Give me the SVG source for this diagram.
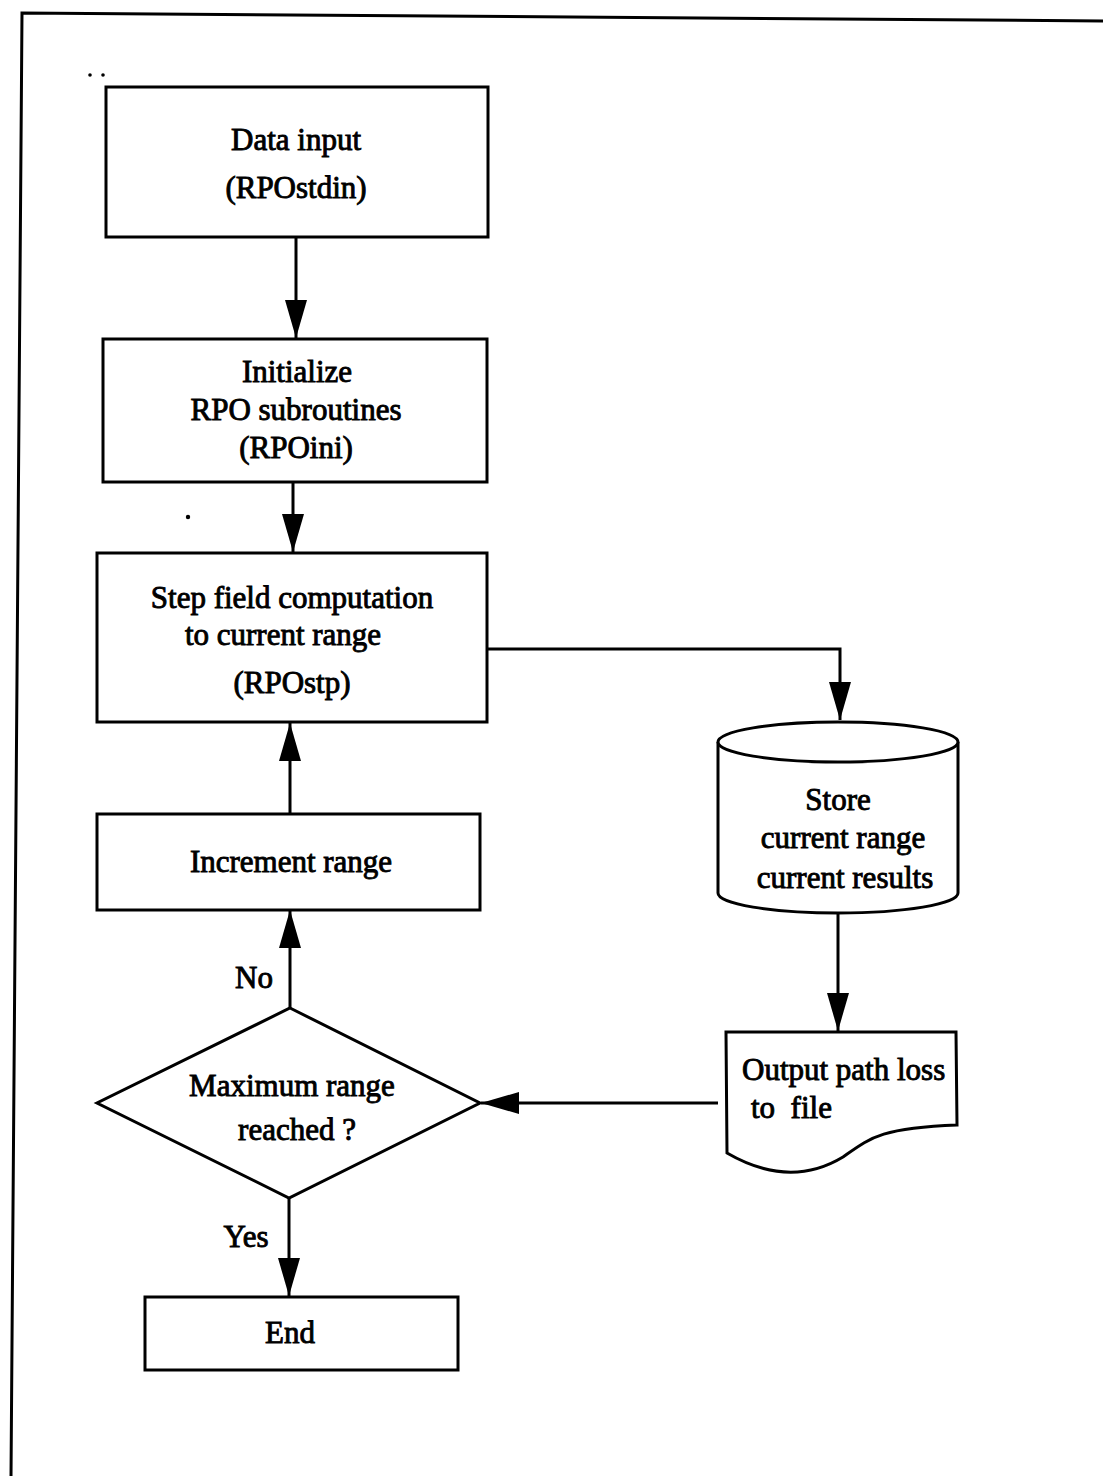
<svg xmlns="http://www.w3.org/2000/svg" width="1103" height="1476" viewBox="0 0 1103 1476">
<style>
.s{fill:#fff;stroke:#000;stroke-width:3;stroke-linejoin:miter}
.c{fill:none;stroke:#000;stroke-width:3}
.t{font-family:"Liberation Serif","Times New Roman",serif;font-size:31px;fill:#000;stroke:#000;stroke-width:0.9;text-anchor:middle}
.l{text-anchor:start}
</style>
<defs>
<marker id="ah" markerUnits="userSpaceOnUse" markerWidth="40" markerHeight="24" refX="38" refY="11" orient="auto">
<path d="M0,0 L38,11 L0,22 z" fill="#000"/>
</marker>
</defs>
<rect width="1103" height="1476" fill="#fff"/>
<g id="frame">
<path class="c" d="M11,1476 L22,13 L1103,21"/>
<circle cx="90" cy="75" r="1.8" fill="#000"/>
<circle cx="103" cy="75" r="1.8" fill="#000"/>
<circle cx="188" cy="517" r="2.2" fill="#000"/>
</g>
<g id="connectors">
<line class="c" x1="296" y1="237" x2="296" y2="338" marker-end="url(#ah)"/>
<line class="c" x1="293" y1="482" x2="293" y2="552" marker-end="url(#ah)"/>
<polyline class="c" points="487,649 840,649 840,720" marker-end="url(#ah)"/>
<line class="c" x1="838" y1="912" x2="838" y2="1031" marker-end="url(#ah)"/>
<line class="c" x1="718" y1="1103" x2="481" y2="1103" marker-end="url(#ah)"/>
<line class="c" x1="290" y1="1008" x2="290" y2="910" marker-end="url(#ah)"/>
<line class="c" x1="290" y1="814" x2="290" y2="723" marker-end="url(#ah)"/>
<line class="c" x1="289" y1="1198" x2="289" y2="1296" marker-end="url(#ah)"/>
</g>
<g id="data-input">
<rect class="s" x="106" y="87" width="382" height="150"/>
<text class="t" x="296" y="150">Data input</text>
<text class="t" x="296" y="198">(RPOstdin)</text>
</g>
<g id="initialize">
<rect class="s" x="103" y="339" width="384" height="143"/>
<text class="t" x="297" y="382">Initialize</text>
<text class="t" x="296" y="420">RPO subroutines</text>
<text class="t" x="296" y="458">(RPOini)</text>
</g>
<g id="step">
<rect class="s" x="97" y="553" width="390" height="169"/>
<text class="t" x="292" y="608">Step field computation</text>
<text class="t" x="283" y="645">to current range</text>
<text class="t" x="292" y="693">(RPOstp)</text>
</g>
<g id="increment">
<rect class="s" x="97" y="814" width="383" height="96"/>
<text class="t" x="291" y="872">Increment range</text>
</g>
<g id="decision">
<polygon class="s" points="290,1008 480,1103 289,1198 97,1103"/>
<text class="t" x="292" y="1096">Maximum range</text>
<text class="t" x="297" y="1140">reached ?</text>
<text class="t" x="254" y="988">No</text>
<text class="t" x="246" y="1247">Yes</text>
</g>
<g id="end">
<rect class="s" x="145" y="1297" width="313" height="73"/>
<text class="t" x="290" y="1343">End</text>
</g>
<g id="store">
<path class="s" d="M718,742 L718,893 A120,20 0 0 0 958,893 L958,742"/>
<ellipse class="s" cx="838" cy="742" rx="120" ry="20"/>
<text class="t" x="838" y="810">Store</text>
<text class="t" x="843" y="848">current range</text>
<text class="t" x="845" y="888">current results</text>
</g>
<g id="output">
<path class="s" d="M727,1153 L726,1032 L956,1032 L957,1125 C880,1128 870,1138 843,1157 C805,1180 765,1175 727,1153 z"/>
<text class="t l" x="742" y="1080">Output path loss</text>
<text class="t l" x="751" y="1118" xml:space="preserve">to  file</text>
</g>
</svg>
